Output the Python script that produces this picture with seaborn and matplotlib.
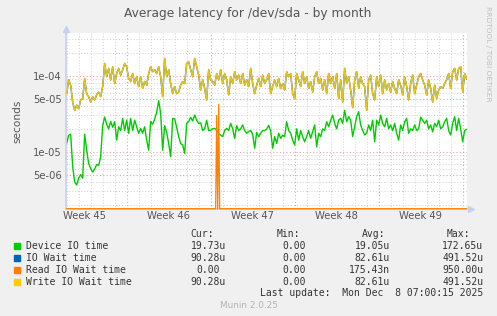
# Munin: average latency for /dev/sda, monthly view

import numpy as np
import pandas as pd
import matplotlib
matplotlib.use("Agg")
import matplotlib.pyplot as plt
import matplotlib.dates as mdates
import matplotlib.ticker as mticker
from matplotlib.patches import Rectangle
import seaborn as sns

# values in microseconds, one sample every 4 hours from 2025-11-05 00:00
device_io_us = [
    12.9, 16.5, 17, 6.4, 4.0, 3.65, 4.5, 5.0, 4.5, 17,
    10.5, 7.0, 6.0, 5.4, 5.9, 6.8, 6.6, 8.6, 22, 28.6,
    23, 20, 25, 21, 24.8, 14.2, 21.3, 19, 27.5, 19,
    26, 17.5, 27.5, 19, 26, 21.3, 17.5, 20.3, 17.5, 21.3,
    14.2, 10.5, 25, 23, 27, 33, 47, 32, 10.5, 22,
    18, 12.9, 8.6, 27.5, 27, 21, 15.8, 12.8, 12.3, 9.5,
    23.6, 25, 28.3, 25.4, 30.4, 26, 23.6, 24, 19, 20,
    26, 19, 19, 20, 20.3, 19, 17.5, 16.5, 15.8, 19,
    20.3, 19, 23.6, 20, 15, 22, 19, 20, 22.5, 19,
    17.5, 18.5, 19, 17, 11.1, 18, 15.8, 17.5, 19, 19,
    19.9, 22.2, 19, 11.1, 15.8, 12.9, 17.5, 15, 16.5, 15.8,
    24.8, 19, 17.5, 14.2, 12.3, 20, 14.2, 19, 15.8, 13.5,
    15.8, 19, 15, 18.3, 22.5, 11.6, 17.5, 15.8, 20, 19,
    24.8, 21.3, 26, 30.4, 23.6, 20, 26, 27.5, 23.6, 35,
    24.8, 28.9, 26, 15.8, 21.3, 28.9, 33.6, 22.5, 19, 16.6,
    17.5, 22.5, 19, 26, 13.5, 26, 22.5, 30.4, 23.6, 21.3,
    27.5, 20, 22.5, 19, 23.6, 17.5, 14.2, 22.5, 19, 24.8,
    27.5, 17.5, 20, 19, 22.5, 19, 20, 28.5, 26, 23.6,
    26, 20, 22.5, 18.3, 23.6, 21.3, 26, 20, 21.3, 24.8,
    27.5, 19, 16.6, 23.6, 28.9, 19, 27.5, 20, 13.5, 19,
    19.7,
]

io_wait_us = [
    58, 88, 75, 45, 35, 41, 37, 48, 50, 92,
    58, 53, 45, 53, 48, 56, 61, 53, 72, 145,
    97, 125, 88, 131, 79, 107, 125, 102, 120, 145,
    131, 92, 84, 107, 79, 97, 72, 97, 68, 84,
    75, 107, 131, 113, 120, 107, 131, 97, 53, 169,
    97, 120, 79, 58, 72, 58, 61, 75, 84, 79,
    145, 153, 120, 97, 169, 131, 102, 65, 88, 68,
    48, 120, 88, 84, 75, 107, 88, 120, 79, 107,
    88, 56, 97, 79, 113, 88, 102, 79, 107, 75,
    88, 72, 125, 79, 58, 75, 92, 72, 102, 79,
    88, 107, 58, 72, 88, 72, 92, 68, 79, 65,
    113, 97, 107, 58, 50, 107, 88, 72, 113, 79,
    97, 68, 84, 61, 97, 113, 79, 92, 65, 88,
    58, 107, 79, 97, 68, 107, 50, 88, 45, 125,
    79, 97, 65, 38, 88, 113, 68, 97, 79, 72,
    35, 88, 102, 58, 48, 97, 72, 102, 58, 88,
    65, 79, 61, 84, 68, 58, 88, 75, 56, 97,
    72, 48, 79, 102, 58, 75, 97, 107, 88, 75,
    56, 88, 68, 45, 75, 50, 65, 72, 68, 79,
    88, 107, 68, 113, 125, 88, 125, 131, 61, 107,
    90.3,
]

# write wait is identical to the total IO wait in this graph
write_wait_us = list(io_wait_us)

# read wait is zero except for two short spikes (2-hour samples)
read_spike_times = ["2025-11-17 12:00", "2025-11-17 16:00"]
read_spike_us = [30, 42]

series_names = ["Device IO time", "IO Wait time", "Read IO Wait time", "Write IO Wait time"]
series_colors = ["#00CC00", "#0066B3", "#FF8000", "#FFCC00"]
cur_vals = ["19.73u", "90.28u", "0.00", "90.28u"]
min_vals = ["0.00", "0.00", "0.00", "0.00"]
avg_vals = ["19.05u", "82.61u", "175.43n", "82.61u"]
max_vals = ["172.65u", "491.52u", "950.00u", "491.52u"]

times = pd.date_range("2025-11-05 00:00", periods=len(device_io_us), freq="4h")
read_times = pd.date_range("2025-11-05 00:00", "2025-12-08 08:00", freq="2h")

W, H = 497, 316
y_lo, y_hi = 1.78e-6, 3.65e-4

sns.set_theme(style="white")
plt.rcParams["font.family"] = ["DejaVu Sans"]

fig = plt.figure(figsize=(W / 100, H / 100), dpi=100)
fig.patch.set_facecolor("#F0F0F0")
ax = fig.add_axes([66 / W, 1 - 208.7 / H, 401 / W, 175.7 / H])
ax.set_facecolor("white")

df = pd.DataFrame({
    "time": times,
    "device": np.array(device_io_us) * 1e-6,
    "iowait": np.array(io_wait_us) * 1e-6,
    "write": np.array(write_wait_us) * 1e-6,
})

read_vals = np.zeros(len(read_times))
for t, v in zip(read_spike_times, read_spike_us):
    read_vals[read_times.get_loc(pd.Timestamp(t))] = v * 1e-6
# zero is drawn on the bottom edge like rrdtool does
read_df = pd.DataFrame({"time": read_times, "read": np.clip(read_vals, y_lo, None)})

sns.lineplot(data=df, x="time", y="device", color=series_colors[0], lw=1.0, ax=ax)
sns.lineplot(data=df, x="time", y="iowait", color=series_colors[1], lw=1.0, ax=ax)
sns.lineplot(data=read_df, x="time", y="read", color=series_colors[2], lw=0.9,
             ax=ax, clip_on=False, zorder=3)
sns.lineplot(data=df, x="time", y="write", color=series_colors[3], lw=1.0,
             alpha=0.93, ax=ax, zorder=3.5)

ax.set_yscale("log")
ax.set_ylim(y_lo, y_hi)
x0, x1 = pd.Timestamp("2025-11-04 22:40"), pd.Timestamp("2025-12-08 08:40")
ax.set_xlim(x0, x1)

# grid like rrdtool: red dotted majors, grey dotted minors
ax.yaxis.set_major_locator(mticker.LogLocator(base=10, subs=(1.0, 5.0)))
ax.yaxis.set_minor_locator(mticker.LogLocator(base=10, subs=(2, 3, 4, 6, 7, 8, 9)))
ax.yaxis.set_major_formatter(mticker.FuncFormatter(lambda v, p: f"{v:.0e}"))
ax.yaxis.set_minor_formatter(mticker.NullFormatter())
ax.xaxis.set_major_locator(mdates.WeekdayLocator(byweekday=mdates.MO))
ax.xaxis.set_minor_locator(mdates.DayLocator())
ax.xaxis.set_major_formatter(mticker.NullFormatter())

dots = (0, (1, 2))
ax.grid(which="minor", color="#D0D0D0", linestyle=dots, lw=0.7)
ax.grid(which="major", color="#F0A0A0", linestyle=dots, lw=0.8)
ax.set_axisbelow(True)

ax.tick_params(axis="y", which="both", length=0, pad=3, labelsize=7.2, labelcolor="#555555")
ax.tick_params(axis="x", which="major", length=2, color="#F0A0A0", direction="out")
ax.tick_params(axis="x", which="minor", length=0)

for side in ["top", "right"]:
    ax.spines[side].set_visible(False)
ax.spines["left"].set_color("#C8D0F0")
ax.spines["bottom"].set_color("#C8D0F0")
ax.plot([0], [1.02], marker="^", ms=4, color="#C8D0F0", transform=ax.transAxes, clip_on=False)
ax.plot([1.01], [0], marker=">", ms=4, color="#C8D0F0", transform=ax.transAxes, clip_on=False)

ax.set_xlabel("")
ax.set_ylabel("seconds", fontsize=7.6, color="#555555", labelpad=8)

# week labels in the middle of each week
for monday in ax.xaxis.get_majorticklocs():
    mid = mdates.num2date(monday) - pd.Timedelta(days=3.5)
    if mdates.date2num(mid) < mdates.date2num(x0):
        continue
    ax.annotate(f"Week {mid.isocalendar()[1]}", xy=(mdates.date2num(mid), 0),
                xycoords=("data", "axes fraction"),
                xytext=(0, -5.6), textcoords="offset points", ha="center", va="center",
                fontsize=7.2, color="#555555", annotation_clip=False)

fig.text(248 / W, 1 - 14 / H, "Average latency for /dev/sda - by month",
         ha="center", va="center", fontsize=8.8, color="#555555")
fig.text(488 / W, 1 - 6 / H, "RRDTOOL / TOBI OETIKER", rotation=270,
         ha="center", va="top", fontsize=5.4, color="#C0C0C0")

# legend table
mono = "DejaVu Sans Mono"
fs = 7.0
cw = 5.85
txt = "#333333"
headers = [("Cur:", 190.7), ("Min:", 276.7), ("Avg:", 362), ("Max:", 447)]
for label, x in headers:
    fig.text(x / W, 1 - 233.7 / H, label, family=mono, fontsize=fs, color=txt,
             ha="left", va="center")

col_right = [226, 312, 390, 483.3]
for i, name in enumerate(series_names):
    yc = 245.7 + 12 * i
    fig.patches.append(Rectangle((14 / W, 1 - (yc + 3) / H), 6 / W, 6 / H,
                                 transform=fig.transFigure, color=series_colors[i]))
    fig.text(26.5 / W, 1 - yc / H, name, family=mono, fontsize=fs, color=txt,
             ha="left", va="center")
    for vals, xr in zip([cur_vals, min_vals, avg_vals, max_vals], col_right):
        v = vals[i]
        x = xr if v[-1].isalpha() else xr - cw
        fig.text(x / W, 1 - yc / H, v, family=mono, fontsize=fs, color=txt,
                 ha="right", va="center")

fig.text(483.3 / W, 1 - 293.3 / H, "Last update:  Mon Dec  8 07:00:15 2025",
         family=mono, fontsize=fs, color=txt, ha="right", va="center")
fig.text(249 / W, 1 - 305 / H, "Munin 2.0.25", ha="center", va="center",
         fontsize=6.4, color="#B4B4B4")

fig.savefig("out.png", dpi=100, facecolor=fig.get_facecolor())
